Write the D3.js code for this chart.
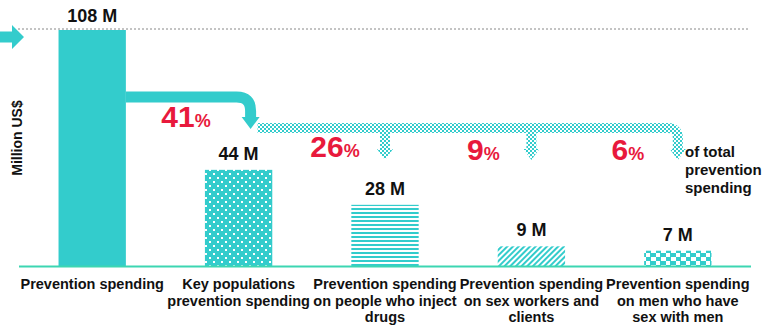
<!DOCTYPE html>
<meta charset="utf-8">
<script src="https://d3js.org/d3.v7.min.js"></script>
<style>
  body { margin: 0; background: #fff; }
  text { font-family: "Liberation Sans", Arial, sans-serif; font-weight: bold; }
</style>
<div id="chart"></div>
<script>

// data
var categories = ["Prevention spending", "Key populations prevention spending",
  "Prevention spending on people who inject drugs",
  "Prevention spending on sex workers and clients",
  "Prevention spending on men who have sex with men"];
var values = [108, 44, 28, 9, 7];
var valueLabels = ["108 M", "44 M", "28 M", "9 M", "7 M"];
var shares = [null, 41, 26, 9, 6];
var labelLines = [
  ["Prevention spending"],
  ["Key populations", "prevention spending"],
  ["Prevention spending", "on people who inject", "drugs"],
  ["Prevention spending", "on sex workers and", "clients"],
  ["Prevention spending", "on men who have", "sex with men"]
];
var patterns = ["none", "dots", "hstripes", "diag", "checkbig"];

var width = 779, height = 331;
var teal = "#33cccc", red = "#e8193c";

var svg = d3.select("#chart").append("svg")
    .attr("width", width)
    .attr("height", height);

var defs = svg.append("defs");

// patterns for the bars
var p = defs.append("pattern").attr("id", "dots").attr("patternUnits", "userSpaceOnUse")
    .attr("width", 8).attr("height", 8);
p.append("rect").attr("width", 8).attr("height", 8).attr("fill", teal);
p.append("rect").attr("x", 1).attr("y", 1).attr("width", 2).attr("height", 2).attr("fill", "#fff");
p.append("rect").attr("x", 5).attr("y", 5).attr("width", 2).attr("height", 2).attr("fill", "#fff");

p = defs.append("pattern").attr("id", "hstripes").attr("patternUnits", "userSpaceOnUse")
    .attr("width", 4).attr("height", 4);
p.append("rect").attr("width", 4).attr("height", 4).attr("fill", "#fff");
p.append("rect").attr("width", 4).attr("height", 2).attr("fill", teal);

p = defs.append("pattern").attr("id", "diag").attr("patternUnits", "userSpaceOnUse")
    .attr("width", 4).attr("height", 4).attr("patternTransform", "rotate(45)");
p.append("rect").attr("width", 4).attr("height", 4).attr("fill", "#fff");
p.append("rect").attr("width", 2).attr("height", 4).attr("fill", teal);

p = defs.append("pattern").attr("id", "checkbig").attr("patternUnits", "userSpaceOnUse")
    .attr("width", 10).attr("height", 8).attr("y", 253);
p.append("rect").attr("width", 10).attr("height", 8).attr("fill", teal);
p.append("rect").attr("x", 1).attr("y", 4).attr("width", 5).attr("height", 4).attr("fill", "#fff");
p.append("rect").attr("x", 6).attr("y", 0).attr("width", 4).attr("height", 4).attr("fill", "#fff");

p = defs.append("pattern").attr("id", "checker").attr("patternUnits", "userSpaceOnUse")
    .attr("width", 4).attr("height", 4);
p.append("rect").attr("width", 4).attr("height", 4).attr("fill", "#fff");
p.append("rect").attr("width", 2).attr("height", 2).attr("fill", teal);
p.append("rect").attr("x", 2).attr("y", 2).attr("width", 2).attr("height", 2).attr("fill", teal);

// scales
var x = d3.scaleBand()
    .domain(categories)
    .range([19, 751])
    .paddingInner(0.54)
    .paddingOuter(0.27);

var y = d3.scaleLinear()
    .domain([0, 108])
    .range([266, 30]);

var cx = function(i) { return x(categories[i]) + x.bandwidth() / 2; };

// dashed reference line at the top
svg.append("line")
    .attr("x1", 18).attr("x2", 750)
    .attr("y1", y(108) - 1).attr("y2", y(108) - 1)
    .attr("stroke", "#888").attr("stroke-width", 1)
    .attr("stroke-dasharray", "2,2");

// left arrow
svg.append("path")
    .attr("d", "M0,31.5 H12 V25 L24,37 L12,49 V42.5 H0 Z")
    .attr("fill", teal);

// bars
svg.selectAll(".bar")
    .data(values)
    .enter()
    .append("rect")
      .attr("class", "bar")
      .attr("x", function(d, i) { return x(categories[i]); })
      .attr("y", function(d) { return y(d); })
      .attr("width", x.bandwidth())
      .attr("height", function(d) { return y(0) - y(d); })
      .attr("fill", function(d, i) { return patterns[i] == "none" ? teal : "url(#" + patterns[i] + ")"; });

// baseline
svg.append("line")
    .attr("x1", 19).attr("x2", 751)
    .attr("y1", y(0) + 0.5).attr("y2", y(0) + 0.5)
    .attr("stroke", "#3cd6b2").attr("stroke-width", 2);

// value labels
svg.selectAll(".val")
    .data(values)
    .enter()
    .append("text")
      .attr("x", function(d, i) { return cx(i); })
      .attr("y", function(d, i) { return y(d) - (i == 0 ? 8 : 10); })
      .attr("text-anchor", "middle")
      .style("font-size", "18px")
      .attr("fill", "#111")
      .text(function(d, i) { return valueLabels[i]; });

// category labels
labelLines.forEach(function(lines, i) {
  var t = svg.append("text")
      .attr("x", cx(i))
      .attr("y", 289)
      .attr("text-anchor", "middle")
      .style("font-size", "14.5px")
      .attr("fill", "#111");
  lines.forEach(function(l, j) {
    t.append("tspan").attr("x", cx(i)).attr("y", 289 + j * 16.5).text(l);
  });
});

// y axis title
svg.append("text")
    .attr("transform", "translate(22,138) rotate(-90)")
    .attr("text-anchor", "middle")
    .style("font-size", "14px")
    .attr("fill", "#111")
    .text("Million US$");

// solid flow arrow from first bar to key populations
var ax = cx(1) + 12;
svg.append("path")
    .attr("d", "M" + (x(categories[0]) + x.bandwidth()) + ",97 H" + (ax - 14) +
      " Q" + ax + ",97 " + ax + ",111 V118")
    .attr("fill", "none").attr("stroke", teal).attr("stroke-width", 11);
svg.append("path")
    .attr("d", "M" + (ax - 9) + ",117 H" + (ax + 9) + " L" + ax + ",129 Z")
    .attr("fill", teal);

// checkered flow to sub groups
var hy = 128, tip = 160;
var lastX = cx(4);
svg.append("path")
    .attr("d", "M" + (ax + 7) + "," + hy + " H" + (lastX - 10) +
      " Q" + lastX + "," + hy + " " + lastX + "," + (hy + 10) + " V" + (tip - 10))
    .attr("fill", "none").attr("stroke", "url(#checker)").attr("stroke-width", 10);
[2, 3].forEach(function(i) {
  svg.append("rect")
      .attr("x", cx(i) - 5).attr("y", hy)
      .attr("width", 10).attr("height", tip - 10 - hy)
      .attr("fill", "url(#checker)");
});
[2, 3, 4].forEach(function(i) {
  svg.append("path")
      .attr("d", "M" + (cx(i) - 8) + "," + (tip - 11) + " H" + (cx(i) + 8) + " L" + cx(i) + "," + tip + " Z")
      .attr("fill", "url(#checker)");
});

// share labels
var shareX = [null, 186, cx(2) - 50, cx(3) - 48, cx(4) - 50];
var shareY = [null, 127, 157, 160, 160];
shares.forEach(function(s, i) {
  if (s === null) return;
  var t = svg.append("text")
      .attr("x", shareX[i]).attr("y", shareY[i])
      .attr("text-anchor", "middle")
      .attr("fill", red);
  t.append("tspan").style("font-size", "30px").text(s);
  t.append("tspan").style("font-size", "18px").text("%");
});

// note
var note = svg.append("text")
    .attr("x", 685).attr("y", 157)
    .style("font-size", "15px")
    .attr("fill", "#111");
["of total", "prevention", "spending"].forEach(function(l, j) {
  note.append("tspan").attr("x", 685).attr("y", 157 + j * 18).text(l);
});

</script>
